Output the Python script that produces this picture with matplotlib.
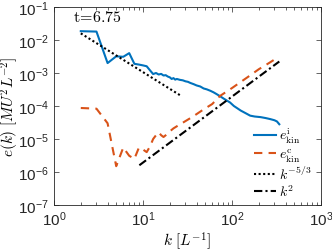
import matplotlib
matplotlib.use("Agg")
import matplotlib.pyplot as plt
from matplotlib.ticker import LogLocator, FixedLocator, FixedFormatter, NullFormatter

plt.rcParams['font.family'] = ['Liberation Sans', 'DejaVu Sans']
plt.rcParams['mathtext.fontset'] = 'cm'

# incompressible kinetic energy spectrum
ki = [2, 3, 4, 5, 6, 7, 8, 9, 10, 11, 12, 13, 14, 15, 16, 17, 18, 19, 20, 21, 22, 23,
      24, 26, 28, 30, 32, 34, 37, 40, 44, 48, 52, 57, 62, 67, 73, 80, 88, 95, 105,
      115, 125, 140, 160, 180, 210, 240, 270, 300, 320, 340]
ei = [0.0185, 0.018, 0.002, 0.0032, 0.0031, 0.004, 0.0019, 0.0018, 0.0017, 0.0016,
      0.0012, 9.3e-4, 1.0e-3, 9.0e-4, 9.4e-4, 8.4e-4, 8.6e-4, 7.8e-4, 7.4e-4, 6.6e-4,
      7.0e-4, 6.3e-4, 6.6e-4, 6.2e-4, 6.0e-4, 5.6e-4, 5.4e-4, 5.0e-4, 4.6e-4, 4.2e-4,
      3.9e-4, 3.4e-4, 3.2e-4, 2.9e-4, 2.6e-4, 2.3e-4, 2.0e-4, 1.7e-4, 1.45e-4, 1.28e-4,
      1.0e-4, 8.5e-5, 7.3e-5, 6.2e-5, 5.1e-5, 4.8e-5, 4.6e-5, 4.3e-5, 4.0e-5, 3.7e-5,
      3.4e-5, 2.8e-5]

# compressible kinetic energy spectrum
kc = [2, 3, 4, 5, 6, 7, 8, 9, 10, 11, 12, 13, 14, 15, 16, 17, 18, 20, 22, 25, 29, 36,
      47, 60, 73, 100, 150, 200, 260, 330]
ec = [8.7e-5, 8.3e-5, 3.0e-5, 1.5e-6, 5.5e-6, 3.1e-6, 2.5e-6, 5.5e-6, 4.8e-6, 4.0e-6,
      6.0e-6, 1.0e-5, 1.3e-5, 1.6e-5, 1.3e-5, 1.15e-5, 1.3e-5, 1.7e-5, 2.1e-5, 2.6e-5,
      3.3e-5, 4.7e-5, 7.6e-5, 1.15e-4, 2.0e-4, 3.5e-4, 7.5e-4, 1.3e-3, 2.0e-3, 3.0e-3]

# reference power laws (end points)
k53 = [2, 27]
e53 = [0.0159, 2.0e-4]
k2 = [9.1, 340]
e2 = [1.6e-6, 2.23e-3]

xticks = [1, 10, 100, 1000]
xlabels = [r'$\mathregular{10^{0}}$', r'$\mathregular{10^{1}}$',
           r'$\mathregular{10^{2}}$', r'$\mathregular{10^{3}}$']
yticks = [1e-7, 1e-6, 1e-5, 1e-4, 1e-3, 1e-2, 1e-1]
ylabels = [r'$\mathregular{10^{-7}}$', r'$\mathregular{10^{-6}}$', r'$\mathregular{10^{-5}}$',
           r'$\mathregular{10^{-4}}$', r'$\mathregular{10^{-3}}$', r'$\mathregular{10^{-2}}$',
           r'$\mathregular{10^{-1}}$']

fig = plt.figure(figsize=(3.32, 2.53), dpi=100)
ax = fig.add_axes([54/332, 1 - 206/253, 267/332, 198/253])

ax.plot(ki, ei, color='#0072BD', lw=1.5, label=r'$e^{\rm i}_{\rm kin}$')
ax.plot(kc, ec, color='#D95319', lw=1.5, ls=(0, (4, 3)), label=r'$e^{\rm c}_{\rm kin}$')
ax.plot(k53, e53, color='black', lw=1.5, ls=(0, (1, 1.2)), label=r'$k^{-5/3}$')
ax.plot(k2, e2, color='black', lw=1.5, ls=(0, (4, 1.5, 1, 1.5)), label=r'$k^{2}$')

ax.set_xscale('log')
ax.set_yscale('log')
ax.set_xlim(1, 1000)
ax.set_ylim(1e-7, 1e-1)
ax.xaxis.set_major_locator(FixedLocator(xticks))
ax.xaxis.set_major_formatter(FixedFormatter(xlabels))
ax.yaxis.set_major_locator(FixedLocator(yticks))
ax.yaxis.set_major_formatter(FixedFormatter(ylabels))
ax.xaxis.set_minor_locator(LogLocator(base=10, subs=range(2, 10)))
ax.yaxis.set_minor_locator(LogLocator(base=10, subs=range(2, 10)))
ax.xaxis.set_minor_formatter(NullFormatter())
ax.yaxis.set_minor_formatter(NullFormatter())

ax.tick_params(which='both', direction='in', top=True, right=True, colors='#262626',
               labelcolor='#262626', labelsize=11)
ax.tick_params(which='major', length=3.5, width=0.5)
ax.tick_params(which='minor', length=2, width=0.5)
for s in ax.spines.values():
    s.set_linewidth(0.6)
    s.set_color('#262626')

ax.set_xlabel(r'$k\ [L^{-1}]$', fontsize=11)
ax.set_ylabel(r'$e(k)\ [MU^2L^{-2}]$', fontsize=11)
ax.xaxis.set_label_coords(0.5, -0.12)
ax.yaxis.set_label_coords(-0.125, 0.5)

ax.text(0.072, 0.929, r'$\mathrm{t\!=\!6.75}$', transform=ax.transAxes, fontsize=11.5,
        va='baseline', ha='left')

leg = ax.legend(loc='lower right', bbox_to_anchor=(0.975, 0.015), frameon=False,
                fontsize=10, handlelength=1.6, handletextpad=0.2, labelspacing=0.1,
                borderaxespad=0.0, borderpad=0.2)

fig.savefig('out.png', dpi=100)
